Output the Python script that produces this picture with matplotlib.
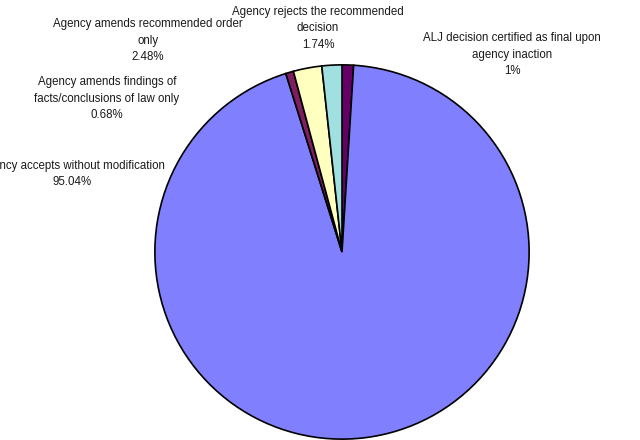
import matplotlib.pyplot as plt

plt.rcParams['font.family'] = ['Liberation Sans', 'DejaVu Sans']

# Outcome of ALJ recommended decisions (percent of cases)
outcomes = [
    'ALJ decision certified as final upon\nagency inaction',
    'Agency accepts without modification',
    'Agency amends findings of\nfacts/conclusions of law only',
    'Agency amends recommended order\nonly',
    'Agency rejects the recommended\ndecision',
]
shares = [1, 95.04, 0.68, 2.48, 1.74]
share_labels = ['1%', '95.04%', '0.68%', '2.48%', '1.74%']
colors = ['#660066', '#8080FF', '#7F1F5F', '#FFFFC0', '#A0E0E0']

# label block centres in pixels (x, y from top)
label_pos = [(512, 55), (72, 174), (107, 99), (148, 41), (318, 28)]

W, H = 640, 440
fig = plt.figure(figsize=(6.4, 4.4), dpi=100)
cx, cy, r = 342, 252, 189
ax = fig.add_axes([(cx - r) / W, (H - cy - r) / H, 2 * r / W, 2 * r / H])

ax.pie(shares, colors=colors, startangle=90, counterclock=False, radius=1,
       wedgeprops=dict(edgecolor='black', linewidth=1.2))
ax.set_xlim(-1.01, 1.01)
ax.set_ylim(-1.01, 1.01)
ax.set_aspect('auto')
ax.axis('off')

for name, pct, (px, py) in zip(outcomes, share_labels, label_pos):
    fig.text(px / W, 1 - py / H, name + '\n' + pct, ha='center', va='center',
             fontsize=8.3, linespacing=1.5, color='#1a1a1a')

plt.savefig('out.png')
